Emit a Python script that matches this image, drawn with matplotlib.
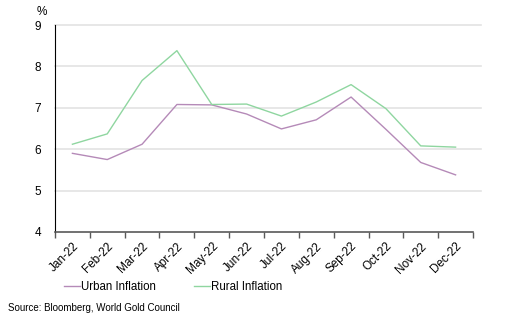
import matplotlib.pyplot as plt
from matplotlib.lines import Line2D

plt.rcParams['font.family'] = ['Liberation Sans', 'DejaVu Sans']

months = ['Jan-22', 'Feb-22', 'Mar-22', 'Apr-22', 'May-22', 'Jun-22',
          'Jul-22', 'Aug-22', 'Sep-22', 'Oct-22', 'Nov-22', 'Dec-22']
urban = [5.90, 5.75, 6.12, 7.08, 7.07, 6.85, 6.49, 6.71, 7.26, 6.48, 5.68, 5.38]
rural = [6.12, 6.37, 7.66, 8.38, 7.08, 7.09, 6.80, 7.14, 7.56, 6.98, 6.08, 6.05]
yticks = [4, 5, 6, 7, 8, 9]

urban_col = '#b58ab8'
rural_col = '#8fd6a0'

fig = plt.figure(figsize=(5.31, 3.30), dpi=100)
ax = fig.add_axes([55/531, 1 - 232/330, (473 - 55)/531, (232 - 25)/330])

x = list(range(len(months)))
ax.plot(x, urban, color=urban_col, lw=1.0)
ax.plot(x, rural, color=rural_col, lw=1.0)

ax.set_xlim(-0.5, 11.5)
ax.set_ylim(4, 9)
ax.set_yticks(yticks)
# gridlines run a bit past the last tick, like the excel original
for v in yticks[1:]:
    ax.axhline(v, xmin=0, xmax=(481 - 55)/418, color='#e3e3e3', lw=1.2,
               clip_on=False, zorder=0)

# ticks between categories, labels at centres
ax.set_xticks([i - 0.5 for i in range(13)])
ax.set_xticklabels([])
ax.set_xticks(x, minor=True)
ax.set_xticklabels(months, minor=True, rotation=45, ha='right',
                   rotation_mode='anchor', fontsize=8.5)
ax.tick_params(axis='x', which='minor', length=0, pad=6)
ax.tick_params(axis='x', which='major', length=4, color='#595959', width=1)
ax.tick_params(axis='y', length=0, labelsize=8.5, pad=10)

for s in ['top', 'right']:
    ax.spines[s].set_visible(False)
ax.spines['left'].set_color('black')
ax.spines['bottom'].set_color('#595959')
ax.spines['bottom'].set_linewidth(1.2)

fig.text(42/531, 1 - 12/330, '%', fontsize=8.5, ha='center', va='center')

handles = [Line2D([], [], color=urban_col, lw=1.0),
           Line2D([], [], color=rural_col, lw=1.0)]
fig.legend(handles, ['Urban Inflation', 'Rural Inflation'], ncol=2,
           loc='center left', bbox_to_anchor=(54/531, 1 - 287/330),
           frameon=False, fontsize=8.3, handlelength=1.35, handletextpad=0.1,
           columnspacing=3.3)

fig.text(8/531, 1 - 308/330, 'Source: Bloomberg, World Gold Council',
         fontsize=7, ha='left', va='center')

fig.savefig('out.png', dpi=100)
